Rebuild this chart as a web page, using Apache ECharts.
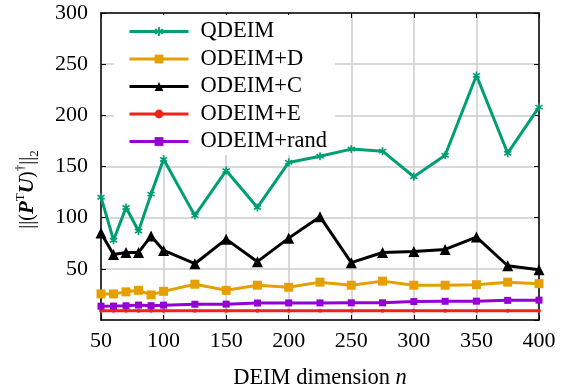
<!DOCTYPE html>
<html>
<head>
<meta charset="utf-8">
<script src="https://cdn.jsdelivr.net/npm/echarts@6/dist/echarts.min.js"></script>
<style>
  html, body { margin: 0; padding: 0; background: #fff; }
  #chart { width: 563px; height: 390px; }
</style>
</head>
<body>
<div id="chart"></div>
<script>
// DEIM dimension n
const dims = [50, 60, 70, 80, 90, 100, 125, 150, 175, 200, 225, 250, 275, 300, 325, 350, 375, 400];

// ||(P^T U)^+||_2 for each selection strategy
const qdeim     = [120, 78, 110, 87, 123, 157, 102, 146, 110, 154, 160, 167, 165, 140, 161, 239, 163, 208];
const odeimD    = [25.5, 25.5, 27.5, 29, 24.5, 28, 35, 29, 34, 32, 37, 34, 38, 34, 34, 34.5, 37, 35.5];
const odeimC    = [85, 64, 66, 66, 82, 68, 55, 79, 57, 80, 101, 56, 66, 67, 69, 81, 53, 49];
const odeimE    = [9, 9, 9, 9, 9, 9, 9, 9, 9, 9, 9, 9, 9, 9, 9, 9, 9, 9];
const odeimRand = [13.5, 13.6, 13.9, 14.6, 14.0, 14.5, 15.4, 15.5, 16.6, 16.7, 16.7, 16.8, 16.8, 18.0, 18.3, 18.4, 19.2, 19.4];

const seriesNames = ['QDEIM', 'ODEIM+D', 'ODEIM+C', 'ODEIM+E', 'ODEIM+rand'];

const xTicks = { min: 50, max: 400, step: 50 };
const yTicks = { min: 0, max: 300, step: 50 };

const FONT = 'Liberation Serif';

// six-armed asterisk marker built from three rotated bars
const asterisk = 'path://M-1,-5L1,-5L1,5L-1,5Z' +
  'M3.83,-3.37L4.83,-1.63L-3.83,3.37L-4.83,1.63Z' +
  'M-4.83,-1.63L-3.83,-3.37L4.83,1.63L3.83,3.37Z';

function pairs(vals) { return dims.map((d, i) => [d, vals[i]]); }

function lineSeries(name, vals, color, symbol, size) {
  return {
    name: name,
    type: 'line',
    data: pairs(vals),
    xAxisIndex: 0,
    yAxisIndex: 0,
    symbol: symbol,
    symbolSize: size,
    showAllSymbol: true,
    lineStyle: { color: color, width: 3 },
    itemStyle: { color: color, borderWidth: 0 },
    emphasis: { disabled: true },
    animation: false
  };
}

const chart = echarts.init(document.getElementById('chart'), null, { renderer: 'canvas' });

const frameAxis = {
  axisLine: { show: true, onZero: false, lineStyle: { color: '#000', width: 1.5 } },
  axisTick: { show: true, inside: true, length: 5, lineStyle: { color: '#000', width: 1 } },
  axisLabel: { show: false },
  splitLine: { show: false }
};

chart.setOption({
  backgroundColor: '#ffffff',
  animation: false,
  grid: { left: 101, right: 24, top: 13, bottom: 70, outerBoundsMode: 'none', containLabel: false },
  legend: {
    data: seriesNames,
    orient: 'vertical',
    left: 114,
    top: 15,
    z: 1,
    padding: [5, 8, 2, 14],
    backgroundColor: '#ffffff',
    itemWidth: 59,
    itemHeight: 11,
    itemGap: 4.5,
    lineStyle: { width: 3 },
    textStyle: { fontFamily: FONT, fontSize: 22.5, color: '#000', padding: [0, 0, 0, 7] },
    selectedMode: false
  },
  xAxis: [
    {
      type: 'value',
      position: 'bottom',
      min: xTicks.min, max: xTicks.max, interval: xTicks.step,
      name: 'DEIM dimension {i|n}',
      nameLocation: 'middle',
      nameGap: 47,
      nameTextStyle: {
        fontFamily: FONT, fontSize: 22.5, color: '#000',
        rich: { i: { fontFamily: FONT, fontSize: 22.5, fontStyle: 'italic', color: '#000' } }
      },
      axisLine: { show: true, onZero: false, lineStyle: { color: '#000', width: 1.5 } },
      axisTick: { show: true, inside: true, length: 5, lineStyle: { color: '#000', width: 1 } },
      axisLabel: { fontFamily: FONT, fontSize: 22, color: '#000', margin: 10 },
      splitLine: { show: true, lineStyle: { color: '#cccccc', width: 1.5 } }
    },
    Object.assign({
      type: 'value', position: 'top',
      min: xTicks.min, max: xTicks.max, interval: xTicks.step
    }, frameAxis)
  ],
  yAxis: [
    {
      type: 'value',
      position: 'left',
      min: yTicks.min, max: yTicks.max, interval: yTicks.step,
      name: '||({b|P}{sup|T}{b|U}){sup|†}||{sub|2}',
      nameLocation: 'middle',
      nameGap: 60,
      nameTextStyle: {
        fontFamily: FONT, fontSize: 20, color: '#000', lineHeight: 27,
        padding: [0, 46, 0, 0],
        rich: {
          b: { fontFamily: FONT, fontSize: 21, fontWeight: 'bold', fontStyle: 'italic', color: '#000', lineHeight: 27 },
          sup: { fontFamily: FONT, fontSize: 13, color: '#000', verticalAlign: 'top', lineHeight: 17 },
          sub: { fontFamily: FONT, fontSize: 13, color: '#000', verticalAlign: 'bottom', lineHeight: 15 }
        }
      },
      axisLine: { show: true, onZero: false, lineStyle: { color: '#000', width: 1.5 } },
      axisTick: { show: true, inside: true, length: 5, lineStyle: { color: '#000', width: 1 } },
      axisLabel: { fontFamily: FONT, fontSize: 22, color: '#000', margin: 13, showMinLabel: false },
      splitLine: { show: true, lineStyle: { color: '#cccccc', width: 1.5 } }
    },
    Object.assign({
      type: 'value', position: 'right',
      min: yTicks.min, max: yTicks.max, interval: yTicks.step
    }, frameAxis)
  ],
  series: [
    lineSeries(seriesNames[0], qdeim, '#009e73', asterisk, 8),
    lineSeries(seriesNames[1], odeimD, '#e69f00', 'rect', 9),
    lineSeries(seriesNames[2], odeimC, '#000000', 'triangle', 11),
    lineSeries(seriesNames[3], odeimE, '#ee2418', 'circle', 4),
    lineSeries(seriesNames[4], odeimRand, '#9400d3', 'rect', 7)
  ]
});
</script>
</body>
</html>
